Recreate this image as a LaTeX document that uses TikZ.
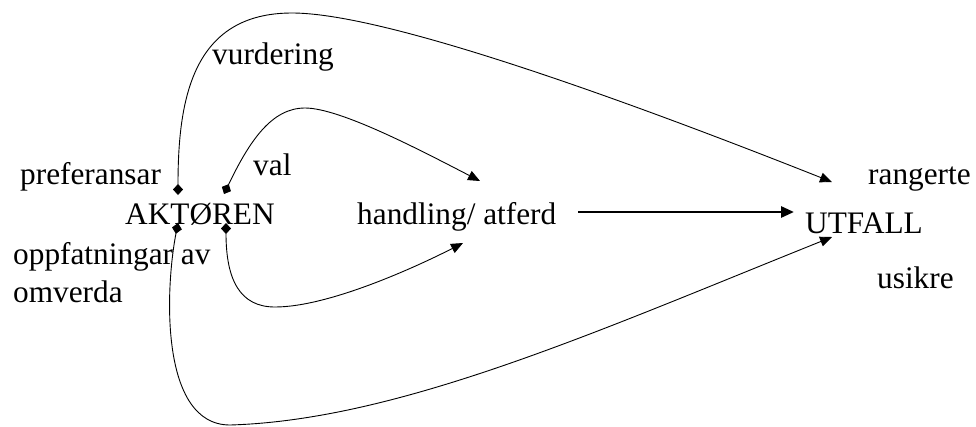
\documentclass[tikz,border=0pt]{standalone}
\usepackage{fontspec}
\setmainfont{Liberation Serif}
\usetikzlibrary{arrows.meta}
\begin{document}
\begin{tikzpicture}[x=1pt,y=-1pt,
  lbl/.style={anchor=base west,inner sep=0pt,font=\fontsize{31.3}{38}\selectfont},
  conn/.style={line width=0.9pt,{Diamond[length=11pt,width=10pt]}-{Triangle[length=12pt,width=10pt]}},
  thick arrow/.style={line width=2.8pt,-{Triangle[length=13pt,width=11pt]}}]
\useasboundingbox (0,0) rectangle (976,426);
% texts
\node[lbl] (vurd) at (212,64) {vurdering};
\node[lbl] (pref) at (20,184) {preferansar};
\node[lbl] (val) at (253,175) {val};
\node[lbl] (akt) at (125,224) {AKTØREN};
\node[lbl] (oppf) at (13,264) {oppfatningar av};
\node[lbl] (omv) at (13,302) {omverda};
\node[lbl] (hand) at (357,224) {handling/ atferd};
\node[lbl] (utf) at (805,233) {UTFALL};
\node[lbl] (rang) at (868,184) {rangerte};
\node[lbl] (usik) at (877,288) {usikre};
% connector endpoints
\coordinate (d1) at (178,195);
\coordinate (d2) at (224,194);
\coordinate (d3) at (178,223);
\coordinate (d4) at (226,223);
\coordinate (t1) at (832,182);
\coordinate (t2) at (480,181);
\coordinate (t3) at (463,243);
\coordinate (t4) at (832,237);
\coordinate (s5) at (578,212);
\coordinate (t5) at (794,212);
% curves
\draw[conn] (d1) .. controls (178,100) and (192,13) .. (292,13)
                  .. controls (380,13) and (600,90) .. (t1);
\draw[conn] (d2) .. controls (250,140) and (272,108) .. (305,108)
                  .. controls (340,108) and (420,150) .. (t2);
\draw[conn] (d4) .. controls (226,280) and (240,307) .. (275,307)
                  .. controls (330,307) and (420,265) .. (t3);
\draw[conn] (d3) .. controls (165,290) and (160,425) .. (230,425)
                  .. controls (400,420) and (600,330) .. (t4);
\draw[thick arrow] (s5) -- (t5);
\end{tikzpicture}
\end{document}
